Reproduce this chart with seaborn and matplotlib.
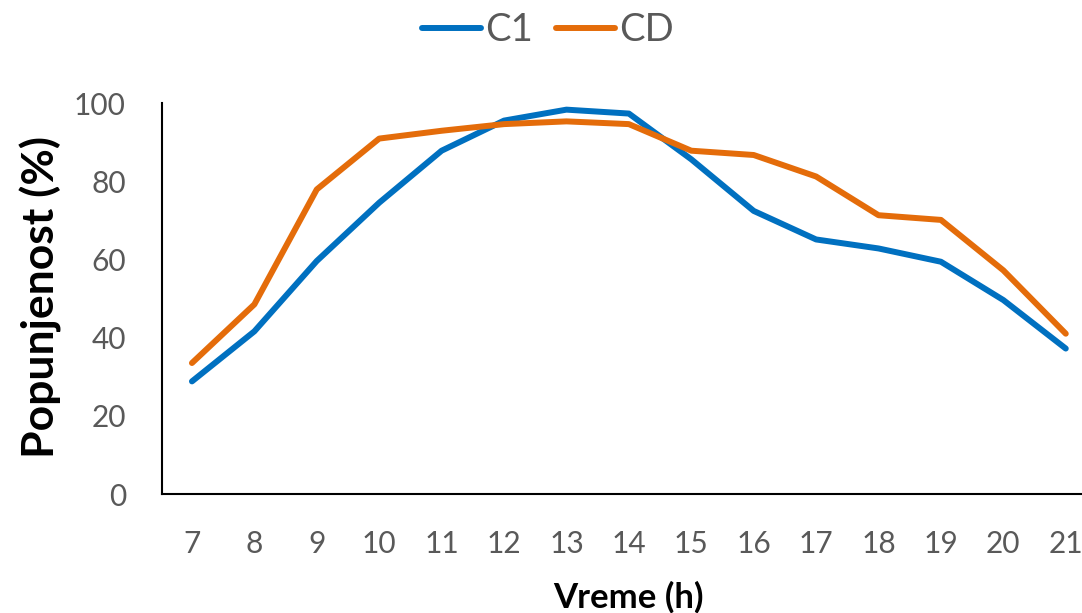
import matplotlib
matplotlib.use("Agg")
import matplotlib.pyplot as plt
import seaborn as sns
import pandas as pd

hours = [7, 8, 9, 10, 11, 12, 13, 14, 15, 16, 17, 18, 19, 20, 21]
c1 = [28.8, 41.6, 59.6, 74.5, 87.8, 95.5, 98.3, 97.3, 85.6, 72.4, 65.1, 62.8, 59.4, 49.6, 37.2]
cd = [33.5, 48.5, 77.9, 90.9, 92.9, 94.6, 95.3, 94.6, 87.8, 86.7, 81.2, 71.3, 70.1, 57.2, 41.0]
series_names = ["C1", "CD"]
y_ticks = [0, 20, 40, 60, 80, 100]

sns.set_theme(style="white")
plt.rcParams['font.family'] = ['Lato', 'DejaVu Sans']

df = pd.DataFrame({
    "Vreme": hours * 2,
    "Popunjenost": c1 + cd,
    "Serija": [series_names[0]] * len(hours) + [series_names[1]] * len(hours),
})

W, H = 1082, 613
fig = plt.figure(figsize=(W / 100, H / 100), dpi=100)
ax = fig.add_axes([162 / W, (H - 494) / H, 920 / W, 391 / H])

sns.lineplot(data=df, x="Vreme", y="Popunjenost", hue="Serija",
             palette=["#0070C0", "#E46C0A"], linewidth=4.3, ax=ax,
             solid_capstyle='round', solid_joinstyle='round')

if ax.legend_ is not None:
    ax.legend_.remove()

ax.set_xlim(6.52, 21.26)
ax.set_ylim(0, 100)
ax.set_xticks(hours)
ax.set_xticklabels([str(h) for h in hours])
ax.set_yticks(y_ticks)
ax.set_yticklabels([str(t) for t in y_ticks])
ax.set_xlabel("")
ax.set_ylabel("")
ax.tick_params(axis='x', length=0, labelsize=21.5, labelcolor='#595959', pad=26)
ax.tick_params(axis='y', length=0, labelsize=21.5, labelcolor='#595959', pad=26)

for s in ['top', 'right']:
    ax.spines[s].set_visible(False)
for s in ['left', 'bottom']:
    ax.spines[s].set_color('black')
    ax.spines[s].set_linewidth(1.5)

handles = ax.get_lines()[:2]
fig.legend(handles, series_names, loc='center', bbox_to_anchor=(548 / W, 1 - 30 / H),
           ncol=2, frameon=False, fontsize=27.5, handlelength=1.55,
           handletextpad=0.1, columnspacing=0.6, labelcolor='#595959')

fig.text(41 / W, 1 - 297 / H, "Popunjenost (%)", rotation=90, ha='center', va='center',
         fontsize=32, fontweight='bold', color='black')
fig.text(628 / W, 1 - 597 / H, "Vreme (h)", ha='center', va='center',
         fontsize=25, fontweight='bold', color='black')

fig.savefig("out.png", dpi=100)
